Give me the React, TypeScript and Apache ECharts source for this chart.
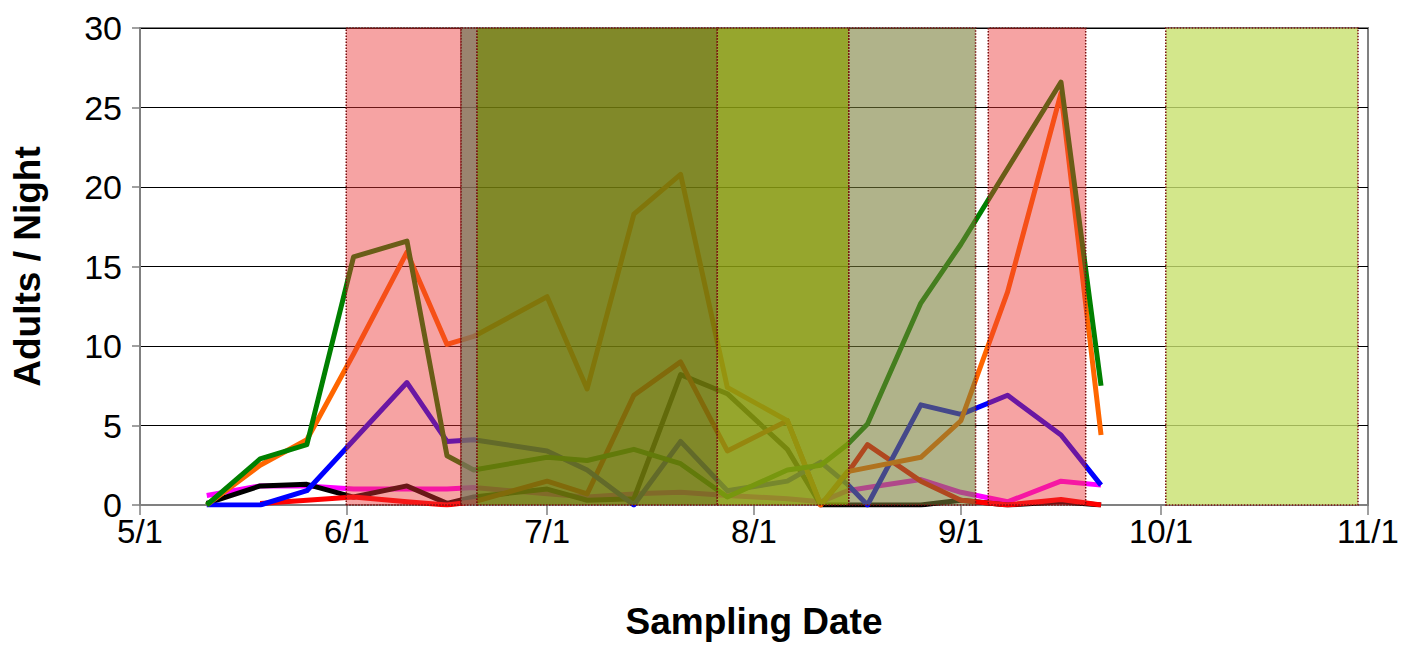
import { useEffect, useRef } from 'react';
import * as echarts from 'echarts';

const FONT = '"Liberation Sans", Arial, sans-serif';

// Sampling dates as days after 5/1
const sampleDays = [10, 18, 25, 32, 40, 46, 50, 61, 67, 74, 81, 88, 97, 102, 106, 109, 117, 123, 130, 138, 144];

const greenValues = [0, 2.9, 3.8, 15.6, 16.6, 3.1, 2.2, 3.0, 2.8, 3.5, 2.6, 0.5, 2.2, 2.5, 3.8, 5.1, 12.7, 16.4, null, 26.6, 7.5];
const orangeValues = [0, 2.5, 4.1, 9.5, 15.9, 10.1, 10.6, 13.1, 7.3, 18.3, 20.8, 7.4, 5.3, 0, 2.1, null, 3.0, 5.3, 13.4, 25.9, 4.4];
const blueValues = [0, 0, 0.9, null, 7.7, 4.0, 4.1, 3.4, 2.2, 0, 4.0, 0.9, 1.5, 2.7, 1.3, 0, 6.3, 5.7, 6.9, 4.4, 1.25];
const magentaValues = [0.6, 1.2, 1.2, 1.0, 1.0, 1.0, 1.1, 0.7, 0.5, 0.7, 0.8, 0.6, 0.4, 0.2, 0.9, 1.1, 1.6, 0.8, 0.2, 1.5, 1.25];
const blackValues = [0.1, 1.2, 1.3, 0.5, 1.2, 0.1, 0.5, 1.0, 0.3, 0.4, 8.2, 7.0, 3.5, 0, 0, 0, 0, 0.3, 0, 0.2, 0];
const redValues = [null, 0.1, 0.3, 0.5, 0.2, 0, 0.2, 1.5, 0.7, 6.9, 9.0, 3.4, 5.3, 0, 2.0, 3.8, 1.5, 0.3, 0, 0.35, 0];

// Axis ticks
const monthStartDays = [0, 31, 61, 92, 123, 153, 184];
const monthLabels = ['5/1', '6/1', '7/1', '8/1', '9/1', '10/1', '11/1'];

// Shaded periods (days after 5/1, top value)
const shadeStarts = [30.9, 48.1, 50.5, 86.5, 106.2, 127.1, 153.7];
const shadeEnds = [48.1, 50.5, 86.5, 106.2, 125.2, 141.7, 182.5];
const shadeTops = [30, 30.2, 30.2, 30.2, 30.2, 30, 30];

const shadeFills = [
  'rgba(236,50,50,0.45)',
  'rgba(136,111,86,0.85)',
  'rgba(111,121,11,0.88)',
  'rgba(136,154,16,0.88)',
  'rgba(119,124,53,0.58)',
  'rgba(236,50,50,0.45)',
  'rgba(200,225,110,0.8)',
];

const lineDefs = [
  { name: 'Magenta', values: magentaValues, color: '#ff00ff' },
  { name: 'Black', values: blackValues, color: '#000000' },
  { name: 'Red', values: redValues, color: '#ff0000' },
  { name: 'Blue', values: blueValues, color: '#0000ff' },
  { name: 'Orange', values: orangeValues, color: '#ff6600' },
  { name: 'Green', values: greenValues, color: '#008000' },
];

export default function App() {
  const ref = useRef<HTMLDivElement>(null);
  useEffect(() => {
    document.body.style.margin = '0';
    const chart = echarts.init(ref.current!, null, { renderer: 'svg' });
    const lineSeries = lineDefs.map((d) => ({
      name: d.name,
      type: 'line',
      z: 2,
      showSymbol: false,
      symbol: 'none',
      data: sampleDays
        .map((day, i) => [day, d.values[i]])
        .filter((p) => p[1] !== null),
      lineStyle: { color: d.color, width: 5, join: 'round' },
      itemStyle: { color: d.color },
    }));
    const option = {
      animation: false,
      backgroundColor: '#ffffff',
      textStyle: { fontFamily: FONT },
      grid: {
        left: 140,
        right: 42,
        top: 28,
        bottom: 137,
        show: true,
        borderColor: '#808080',
        borderWidth: 2,
        backgroundColor: 'transparent',
      },
      xAxis: {
        type: 'value',
        min: 0,
        max: 184,
        axisLine: { show: true, lineStyle: { color: '#808080', width: 2 } },
        axisTick: {
          show: true,
          customValues: monthStartDays,
          length: 10,
          lineStyle: { color: '#808080', width: 1.5 },
        },
        axisLabel: {
          customValues: monthStartDays,
          formatter: (v: number) => {
            const i = monthStartDays.indexOf(Math.round(v));
            return i >= 0 ? monthLabels[i] : '';
          },
          fontSize: 33,
          color: '#000',
          margin: 10,
          fontFamily: FONT,
        },
        splitLine: { show: false },
        name: 'Sampling Date',
        nameLocation: 'middle',
        nameGap: 98,
        nameTextStyle: { fontSize: 37, fontWeight: 'bold', color: '#000', fontFamily: FONT },
      },
      yAxis: {
        type: 'value',
        min: 0,
        max: 30,
        interval: 5,
        axisLine: { show: true, lineStyle: { color: '#808080', width: 2 } },
        axisTick: { show: true, length: 8, lineStyle: { color: '#808080', width: 1.5 } },
        axisLabel: { fontSize: 34, color: '#000', margin: 18, fontFamily: FONT },
        splitLine: { show: true, lineStyle: { color: '#000', width: 1 } },
        name: 'Adults / Night',
        nameLocation: 'middle',
        nameGap: 94,
        nameTextStyle: { fontSize: 37, fontWeight: 'bold', color: '#000', fontFamily: FONT },
      },
      series: [
        ...lineSeries,
        {
          name: 'Periods',
          type: 'line',
          z: 5,
          silent: true,
          clip: false,
          data: [],
          markArea: {
            silent: true,
            z: 10,
            label: { show: false },
            data: shadeStarts.map((s, i) => [
              {
                xAxis: s,
                yAxis: 0,
                itemStyle: {
                  color: shadeFills[i],
                  borderColor: '#7a1010',
                  borderWidth: 1.5,
                  borderType: 'dotted',
                },
              },
              { xAxis: shadeEnds[i], yAxis: shadeTops[i] },
            ]),
          },
        },
      ],
    };
    chart.setOption(option as any);
    return () => chart.dispose();
  }, []);
  return (
    <div
      ref={ref}
      style={{ position: 'absolute', left: 0, top: 0, width: 1410, height: 645 }}
    />
  );
}
